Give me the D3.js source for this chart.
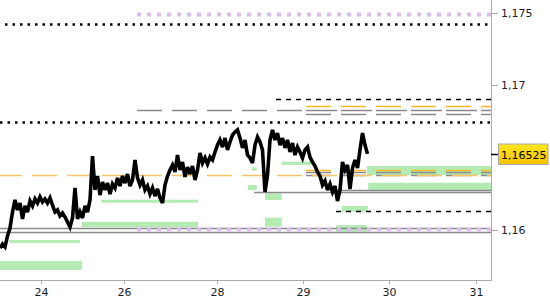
<!DOCTYPE html>
<html>
<head>
<meta charset="utf-8">
<script src="https://cdn.jsdelivr.net/npm/d3@7"></script>
<style>
  body { margin: 0; background: #fff; }
  text { font-family: "DejaVu Sans", Verdana, sans-serif; font-size: 11px; fill: #1c1c2a; }
</style>
</head>
<body>
<div id="chart"></div>
<script>
// x is in chart bars (compressed time), ticks are days of the month
const dayLabels = ["24", "26", "28", "29", "30", "31"]
const dayBars = [16.4, 49.6, 86.7, 121.1, 155.7, 190.3]
const priceTicks = [1.16, 1.17, 1.175]
const lastPrice = 1.16525

// close prices, one per bar
const closes = [
  1.15876, 1.15903, 1.15883, 1.15959, 1.16014, 1.16124, 1.16207, 1.16138, 1.16186, 1.16076,
  1.16166, 1.16124, 1.16200, 1.16166, 1.16214, 1.16186, 1.16228, 1.16193, 1.16214, 1.16186,
  1.16221, 1.16172, 1.16124, 1.16138, 1.16097, 1.16117, 1.16090, 1.16055, 1.16021, 1.16083,
  1.16290, 1.16076, 1.16124, 1.16083, 1.16166, 1.16124, 1.16207, 1.16510, 1.16276, 1.16372,
  1.16241, 1.16331, 1.16276, 1.16324, 1.16248, 1.16317, 1.16290, 1.16359, 1.16303, 1.16372,
  1.16324, 1.16386, 1.16303, 1.16345, 1.16483, 1.16359, 1.16310, 1.16345, 1.16276, 1.16303,
  1.16248, 1.16290, 1.16234, 1.16283, 1.16221, 1.16186, 1.16310, 1.16372, 1.16414, 1.16448,
  1.16400, 1.16517, 1.16414, 1.16469, 1.16366, 1.16434, 1.16386, 1.16441, 1.16345, 1.16414,
  1.16531, 1.16462, 1.16497, 1.16455, 1.16503, 1.16483, 1.16538, 1.16586, 1.16621, 1.16572,
  1.16634, 1.16552, 1.16607, 1.16655, 1.16676, 1.16690, 1.16634, 1.16566, 1.16621, 1.16517,
  1.16497, 1.16462, 1.16586, 1.16641, 1.16607, 1.16552, 1.16262, 1.16379, 1.16621, 1.16690,
  1.16621, 1.16669, 1.16586, 1.16634, 1.16566, 1.16621, 1.16538, 1.16600, 1.16517, 1.16572,
  1.16538, 1.16497, 1.16552, 1.16572, 1.16503, 1.16469, 1.16441, 1.16400, 1.16372, 1.16310,
  1.16338, 1.16276, 1.16317, 1.16262, 1.16303, 1.16200, 1.16276, 1.16469, 1.16414, 1.16448,
  1.16283, 1.16428, 1.16483, 1.16428, 1.16552, 1.16669, 1.16586, 1.16525
]

// zones: [fromBar, toBar, highPrice, lowPrice]
const zones = [
  [0, 32.8, 1.15786, 1.15724],
  [3.6, 32, 1.15931, 1.15910],
  [32.8, 79.2, 1.16057, 1.16019],
  [40.4, 79.2, 1.16209, 1.16188],
  [112.7, 124.4, 1.16471, 1.16448],
  [100.7, 102.7, 1.16432, 1.16409],
  [99.2, 102.7, 1.16310, 1.16276],
  [106, 112.7, 1.16253, 1.16207],
  [106, 112.7, 1.16085, 1.16023],
  [136.7, 147.1, 1.16166, 1.16126],
  [134.4, 146.7, 1.16034, 1.15988],
  [146.7, 196.4, 1.16441, 1.16379],
  [147.3, 196.4, 1.16326, 1.16269]
]

// levels: [price, fromBar, toBar]
const solidGray = [[1.16016, 0, 196.4], [1.15984, 0, 196.4], [1.16260, 101.6, 196.4], [1.16276, 134.4, 196.4]]
const dottedBlack = [[1.17421, 2, 196], [1.16745, 0, 196]]
const dottedLilac = [[1.17490, 54.8, 196.4], [1.16005, 54.8, 196.4]]
const dashedBlack = [[1.16903, 110.4, 196.4], [1.16131, 134.4, 196.4]]
const dashedGray = [[1.16828, 54.8, 121], [1.16800, 122.4, 196.4], [1.16397, 122.4, 196.4], [1.16379, 122.4, 196.4]]
const longDashGray = [[1.16828, 122.4, 196.4]]
const dashedOrange = [[1.16855, 122.4, 196.4], [1.16412, 122.4, 196.4]]
const dashedOrangeFull = [[1.16379, 0, 196.4]]

const W = 550, H = 300
const plotR = 491, plotB = 280

const svg = d3.select('#chart')
  .append('svg')
  .attr('width', W)
  .attr('height', H)

const x = d3.scaleLinear().domain([0, 196.4]).range([0, plotR])
const y = d3.scaleLinear().domain([1.16, 1.175]).range([230, 12.5])

svg.append('clipPath').attr('id', 'plot')
  .append('rect').attr('width', plotR).attr('height', plotB)

const g = svg.append('g').attr('clip-path', 'url(#plot)')

g.selectAll('.zone')
  .data(zones)
  .enter()
  .append('rect')
  .attr('x', d => x(d[0]))
  .attr('width', d => x(d[1]) - x(d[0]))
  .attr('y', d => y(d[2]))
  .attr('height', d => y(d[3]) - y(d[2]))
  .style('fill', '#b3ebb3')

function levels(data, color, width, dash, offset) {
  g.selectAll(null)
    .data(data)
    .enter()
    .append('line')
    .attr('x1', d => x(d[1]))
    .attr('x2', d => x(d[2]))
    .attr('y1', d => Math.round(y(d[0])) + 0.5)
    .attr('y2', d => Math.round(y(d[0])) + 0.5)
    .style('stroke', color)
    .style('stroke-width', width)
    .style('stroke-dasharray', dash)
    .style('stroke-dashoffset', offset || 0)
}

levels(solidGray, '#8a8a8a', 1.5, null)
levels(dottedLilac, '#dcbdf0', 4, '4,6')
levels(dottedBlack, '#000', 2.5, '2.5,5')
levels(dashedBlack, '#000', 1.5, '5,5')
levels(dashedGray, '#8a8a8a', 1.5, '25,10')
levels(longDashGray, '#8a8a8a', 1.5, '31,4')
levels(dashedOrangeFull, '#f3c468', 1.5, '25,10', 3)
levels(dashedOrange, '#f9b92a', 1.5, '25,10')

const line = d3.line()
  .x((d, i) => x(i))
  .y(d => y(d))

g.append('path')
  .datum(closes)
  .attr('d', line)
  .style('fill', 'none')
  .style('stroke', '#000')
  .style('stroke-width', 3.6)
  .style('stroke-linejoin', 'miter')
  .style('stroke-miterlimit', 3)

// frame
svg.append('line')
  .attr('x1', plotR + 0.5).attr('x2', plotR + 0.5)
  .attr('y1', 0).attr('y2', plotB + 0.5)
  .style('stroke', '#aaa')
svg.append('line')
  .attr('x1', 0).attr('x2', plotR + 0.5)
  .attr('y1', plotB + 0.5).attr('y2', plotB + 0.5)
  .style('stroke', '#aaa')

// bottom ticks
const xt = svg.selectAll('.xt')
  .data(dayLabels)
  .enter()
  .append('g')
  .attr('transform', (d, i) => `translate(${Math.round(x(dayBars[i])) + 0.5},${plotB})`)
xt.append('line').attr('y1', 0).attr('y2', 4).style('stroke', '#aaa')
xt.append('text').attr('y', 16).attr('text-anchor', 'middle').text(d => d)

// right ticks
const fmt = v => String(+v.toFixed(5)).replace('.', ',')
const yt = svg.selectAll('.yt')
  .data(priceTicks)
  .enter()
  .append('g')
  .attr('transform', d => `translate(${plotR},${Math.round(y(d)) + 0.5})`)
yt.append('line').attr('x1', 0).attr('x2', 7).style('stroke', '#aaa')
yt.append('text').attr('x', 10).attr('dy', '0.35em').text(fmt)

// last price marker
const grad = svg.append('defs').append('linearGradient')
  .attr('id', 'gold').attr('x1', 0).attr('x2', 0).attr('y1', 0).attr('y2', 1)
grad.append('stop').attr('offset', 0).attr('stop-color', '#ffe81e')
grad.append('stop').attr('offset', 1).attr('stop-color', '#f4c200')

const ly = Math.round(y(lastPrice)) + 0.5
svg.append('line')
  .attr('x1', plotR).attr('x2', plotR + 7)
  .attr('y1', ly).attr('y2', ly)
  .style('stroke', '#000').style('stroke-width', 1.5)
svg.append('rect')
  .attr('x', 498.5).attr('y', ly - 10.5)
  .attr('width', 49.5).attr('height', 20.5)
  .style('fill', 'url(#gold)')
  .style('stroke', '#a8a8a8')
svg.append('text')
  .attr('x', 501).attr('y', ly + 1).attr('dy', '0.35em')
  .style('fill', '#000')
  .text(fmt(lastPrice))
</script>
</body>
</html>
